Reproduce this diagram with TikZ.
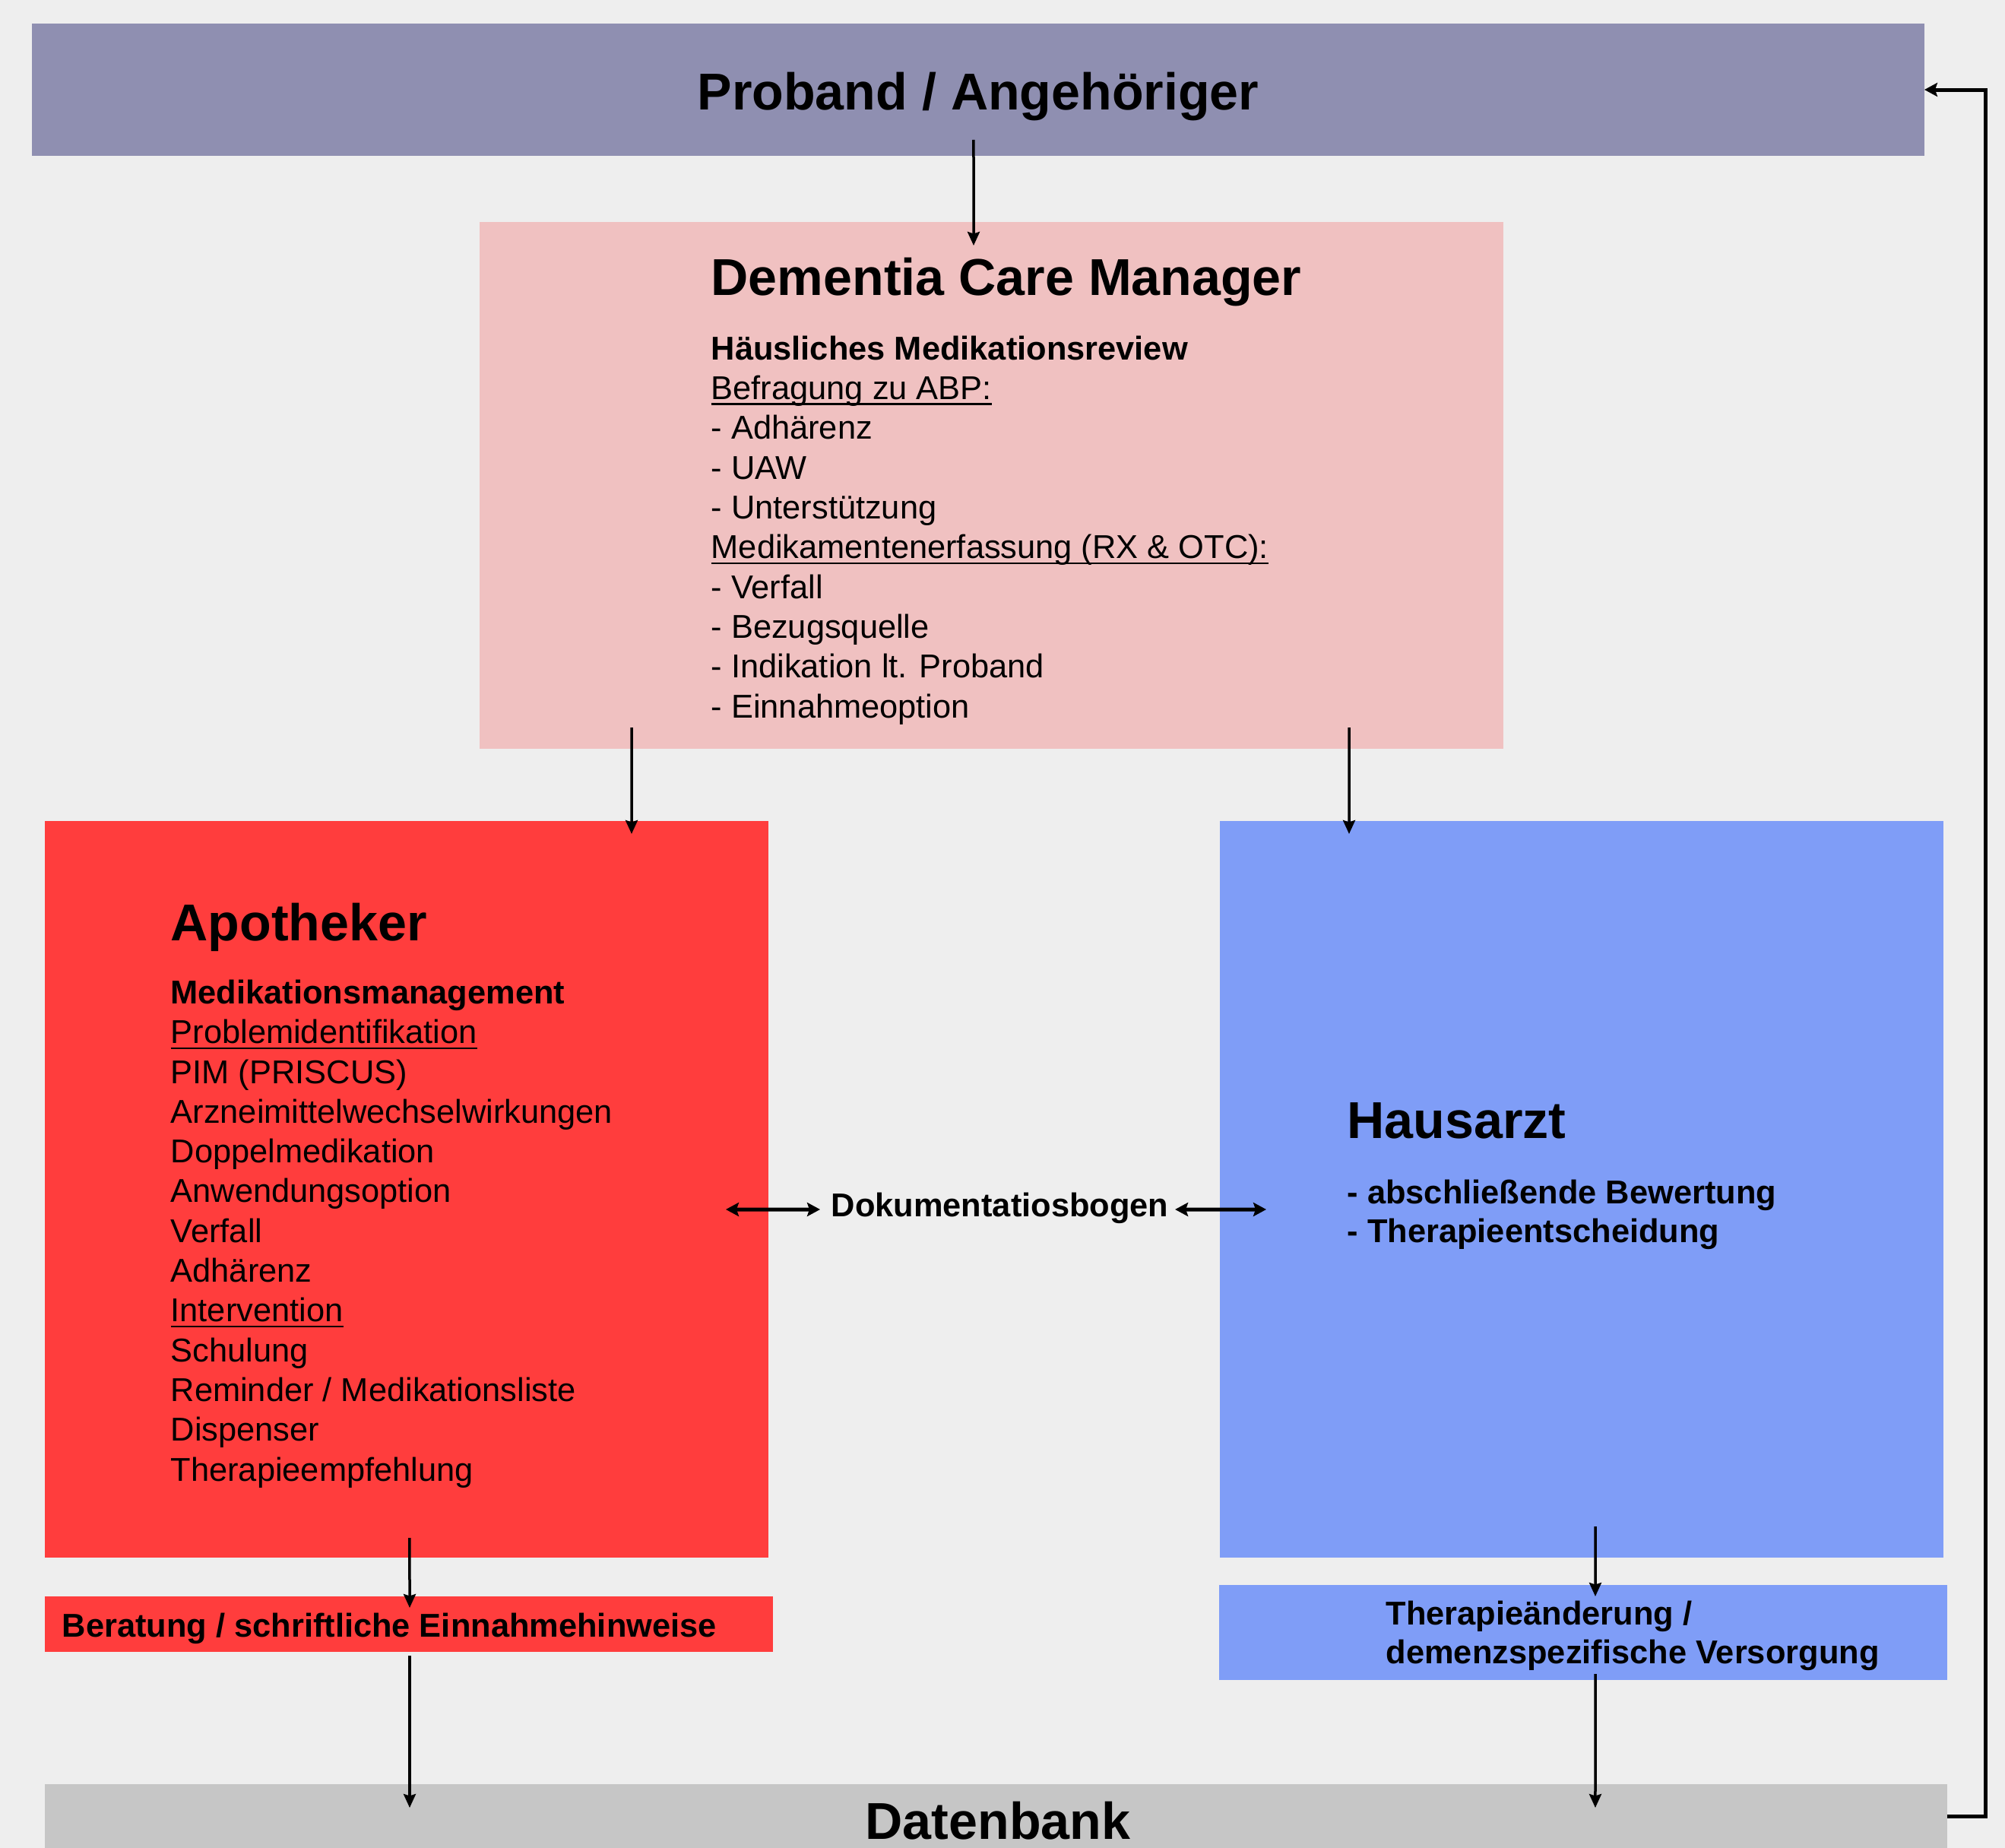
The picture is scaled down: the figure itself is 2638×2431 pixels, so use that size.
\documentclass[tikz,border=0pt]{standalone}
\usepackage{fontspec}
\setmainfont{Liberation Sans}
\usetikzlibrary{arrows.meta}

\definecolor{hgrund}{HTML}{EEEEEE}
\definecolor{proband}{HTML}{8F8FB1}
\definecolor{dcm}{HTML}{F0C1C1}
\definecolor{apotheke}{HTML}{FF3D3D}
\definecolor{arzt}{HTML}{7F9DF7}
\definecolor{datenbank}{HTML}{C6C6C6}

\newcommand{\unterstr}[1]{\setbox0\hbox{#1}\rlap{\rule[-0.75mm]{\wd0}{0.27mm}}#1}

\begin{document}
\begin{tikzpicture}[x=0.1mm,y=-0.1mm,
kasten/.style={draw=none,inner sep=0,outer sep=0,anchor=north west},
titel/.style={inner sep=0,anchor=base west,font=\fontsize{19.4pt}{23pt}\selectfont\bfseries},
liste/.style={inner sep=0,anchor=base west,align=left,font=\fontsize{12.35pt}{14.88pt}\selectfont},
fettliste/.style={liste,font=\fontsize{12.35pt}{14.5pt}\selectfont\bfseries},
pfeil/.style={line width=0.35mm,-{Stealth[length=1.8mm,width=1.6mm,inset=0.25mm]}},
dickpfeil/.style={line width=0.5mm,-{Stealth[length=1.7mm,width=1.8mm,inset=0.3mm]}},
doppelpfeil/.style={line width=0.5mm,{Stealth[length=1.7mm,width=1.8mm,inset=0.3mm]}-{Stealth[length=1.7mm,width=1.8mm,inset=0.3mm]}}]

\fill[hgrund](0,0) rectangle (2638,2431);
\useasboundingbox (0,0) rectangle (2638,2431);

\node[kasten,fill=proband,minimum width=249mm,minimum height=17.4mm](prob) at (42,31){};
\node[kasten,fill=dcm,minimum width=134.7mm,minimum height=69.3mm](dcm) at (631,292){};
\node[kasten,fill=apotheke,minimum width=95.2mm,minimum height=96.9mm](apo) at (59,1080){};
\node[kasten,fill=arzt,minimum width=95.2mm,minimum height=96.9mm](arzt) at (1605,1080){};
\node[kasten,fill=apotheke,minimum width=95.8mm,minimum height=7.3mm](rat) at (59,2100){};
\node[kasten,fill=arzt,minimum width=95.8mm,minimum height=12.5mm](ther) at (1604,2085){};
\node[kasten,fill=datenbank,minimum width=250.3mm,minimum height=8.4mm](db) at (59,2347){};


\node[titel,anchor=base](probtxt) at (1287,144){Proband / Angehöriger};

\node[titel](dcmtxt) at (935,388){Dementia Care Manager};
\node[liste](dcmliste) at (935,944){\textbf{Häusliches Medikationsreview}\\\unterstr{Befragung zu ABP:}\\- Adhärenz\\- UAW\\- Unterstützung\\\unterstr{Medikamentenerfassung (RX \& OTC):}\\- Verfall\\- Bezugsquelle\\- Indikation lt. Proband\\- Einnahmeoption};

\node[titel](apotxt) at (224,1237){Apotheker};
\node[liste](apoliste) at (224,1948){\textbf{Medikationsmanagement}\\\unterstr{Problemidentifikation}\\PIM (PRISCUS)\\Arzneimittelwechselwirkungen\\Doppelmedikation\\Anwendungsoption\\Verfall\\Adhärenz\\\unterstr{Intervention}\\Schulung\\Reminder / Medikationsliste\\Dispenser\\Therapieempfehlung};

\node[titel](arzttxt) at (1772,1497){Hausarzt};
\node[fettliste](arztliste) at (1772,1634){- abschließende Bewertung\\- Therapieentscheidung};

\node[fettliste](doku) at (1093,1600){Dokumentatiosbogen};
\node[fettliste](rattxt) at (81,2153){Beratung / schriftliche Einnahmehinweise};
\node[fettliste](thertxt) at (1823,2188){Therapieänderung /\\demenzspezifische Versorgung};

\node[titel,anchor=base](dbtxt) at (1313,2419){Datenbank};


\draw[pfeil]([xshift=-0.6mm,yshift=2.1mm]prob.south)--([xshift=-2.35mm,yshift=-3.1mm]dcm.north);
\draw[pfeil]([xshift=20mm,yshift=2.8mm]dcm.south west)--([xshift=77.2mm,yshift=-1.7mm]apo.north west);
\draw[pfeil]([xshift=-20.3mm,yshift=2.8mm]dcm.south east)--([xshift=17mm,yshift=-1.7mm]arzt.north west);

\draw[pfeil]([xshift=0.4mm,yshift=2.6mm]apo.south)--([xshift=0.1mm,yshift=-1.5mm]rat.north);
\draw[pfeil]([xshift=0.1mm,yshift=-0.5mm]rat.south)--([xshift=48mm,yshift=-3.1mm]db.north west);

\draw[pfeil]([xshift=1.8mm,yshift=4.1mm]arzt.south)--([xshift=1.6mm,yshift=-1.5mm]ther.north);
\draw[pfeil]([xshift=1.6mm,yshift=0.8mm]ther.south)--([xshift=-46.3mm,yshift=-3.1mm]db.north east);

\draw[doppelpfeil]([xshift=-5.6mm,yshift=-2.65mm]apo.east)--([xshift=-1.4mm,yshift=0.9mm]doku.base west);
\draw[doppelpfeil]([xshift=0.8mm,yshift=0.9mm]doku.base east)--([xshift=6.1mm,yshift=-2.65mm]arzt.west);

\draw[dickpfeil](db.east)--++(51,0)|-(prob.east);

\end{tikzpicture}
\end{document}
